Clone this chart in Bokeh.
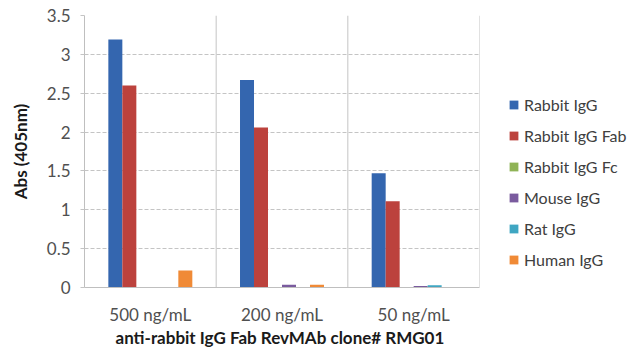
from bokeh.plotting import figure
from bokeh.layouts import row
from bokeh.models import (FactorRange, Range1d, Span, Legend, LegendItem,
                          NumeralTickFormatter, FixedTicker, ColumnDataSource)
from bokeh.transform import dodge
from bokeh.embed import file_html
from bokeh.resources import INLINE

# ---- data ----
concentrations = ["500 ng/mL", "200 ng/mL", "50 ng/mL"]
series_names = ["Rabbit IgG", "Rabbit IgG Fab", "Rabbit IgG Fc",
                "Mouse IgG", "Rat IgG", "Human IgG"]
rabbit_igg = [3.19, 2.67, 1.47]
rabbit_igg_fab = [2.60, 2.06, 1.11]
rabbit_igg_fc = [0.0, 0.0, 0.0]
mouse_igg = [0.0, 0.035, 0.02]
rat_igg = [0.0, 0.0, 0.03]
human_igg = [0.22, 0.035, 0.0]
y_ticks = [0, 0.5, 1, 1.5, 2, 2.5, 3, 3.5]

series_values = [rabbit_igg, rabbit_igg_fab, rabbit_igg_fc, mouse_igg, rat_igg, human_igg]
colors = ["#3466AF", "#BC423D", "#8FB356", "#7A5B9E", "#3FA6C2", "#F08A36"]
keys = ["s%d" % i for i in range(len(series_names))]

data = {"conc": concentrations}
for k, v in zip(keys, series_values):
    data[k] = v
source = ColumnDataSource(data)

FONT = "Lato"
H = 350

p = figure(x_range=FactorRange(*concentrations), y_range=Range1d(0, 3.5),
           width=480, height=H, output_backend="svg", toolbar_location=None,
           min_border_left=84, min_border_right=1, min_border_top=15,
           min_border_bottom=62)
p.outline_line_color = None
p.background_fill_color = "white"

bar_w = 0.1063
offsets = [(i - 2.5) * bar_w for i in range(6)]
for k, col, off in zip(keys, colors, offsets):
    p.vbar(x=dodge("conc", off, range=p.x_range), top=k, width=bar_w,
           bottom=0, source=source, fill_color=col, line_color=None)

# category separators
for loc in [1, 2, 3]:
    p.add_layout(Span(location=loc, dimension="height", line_color="#C4C4C4",
                      line_width=1))

# grid
p.xgrid.grid_line_color = None
p.ygrid.grid_line_color = "#C4C4C4"
p.ygrid.grid_line_dash = "4 2"
p.ygrid.grid_line_width = 1

# y axis
p.yaxis.ticker = FixedTicker(ticks=y_ticks)
p.yaxis.formatter = NumeralTickFormatter(format="0.[0]")
p.yaxis.minor_tick_line_color = None
p.yaxis.major_tick_out = 4
p.yaxis.major_tick_in = 0
p.yaxis.major_tick_line_color = "#C4C4C4"
p.yaxis.axis_line_color = "#BFBFBF"
p.yaxis.major_label_text_font = FONT
p.yaxis.major_label_text_font_size = "17px"
p.yaxis.major_label_text_color = "#505050"
p.yaxis.major_label_standoff = 10
p.yaxis.axis_label = "Abs (405nm)"
p.yaxis.axis_label_text_font = FONT
p.yaxis.axis_label_text_font_size = "17px"
p.yaxis.axis_label_text_font_style = "bold"
p.yaxis.axis_label_text_color = "#1A1A1A"
p.yaxis.axis_label_standoff = 13

# x axis
p.xaxis.major_tick_line_color = None
p.xaxis.major_tick_out = 0
p.xaxis.major_tick_in = 0
p.xaxis.axis_line_color = "#BFBFBF"
p.xaxis.major_label_text_font = FONT
p.xaxis.major_label_text_font_size = "17px"
p.xaxis.major_label_text_color = "#505050"
p.xaxis.major_label_standoff = 16
p.xaxis.axis_label = "anti-rabbit  IgG Fab RevMAb clone# RMG01"
p.xaxis.axis_label_text_font = FONT
p.xaxis.axis_label_text_font_size = "17px"
p.xaxis.axis_label_text_font_style = "bold"
p.xaxis.axis_label_text_color = "#1A1A1A"
p.xaxis.axis_label_standoff = -1

# legend panel (separate figure so the legend can sit beside the plot);
# its renderers share the data but are drawn with zero height (invisible)
pl = figure(width=151, height=H, x_range=FactorRange(*concentrations),
            y_range=Range1d(0, 3.5),
            output_backend="svg", toolbar_location=None,
            x_axis_location=None, y_axis_location=None,
            min_border_left=0, min_border_right=0, min_border_top=0,
            min_border_bottom=0)
pl.outline_line_color = None
pl.grid.visible = False
items = []
for k, name, col, off in zip(keys, series_names, colors, offsets):
    r = pl.vbar(x=dodge("conc", off, range=pl.x_range), top=k, bottom=k,
                width=0, source=source, fill_color=col, line_color=None)
    items.append(LegendItem(label=name, renderers=[r]))

legend = Legend(items=items, location=(28, 18), orientation="vertical",
                padding=0, margin=0, spacing=11, label_height=20,
                glyph_width=11, glyph_height=11, label_standoff=5,
                border_line_color=None, background_fill_alpha=0,
                label_text_font=FONT, label_text_font_size="16px",
                label_text_color="#404040")
pl.add_layout(legend, "center")

layout = row(p, pl, spacing=0)
open("out.html", "w").write(file_html(layout, INLINE))
